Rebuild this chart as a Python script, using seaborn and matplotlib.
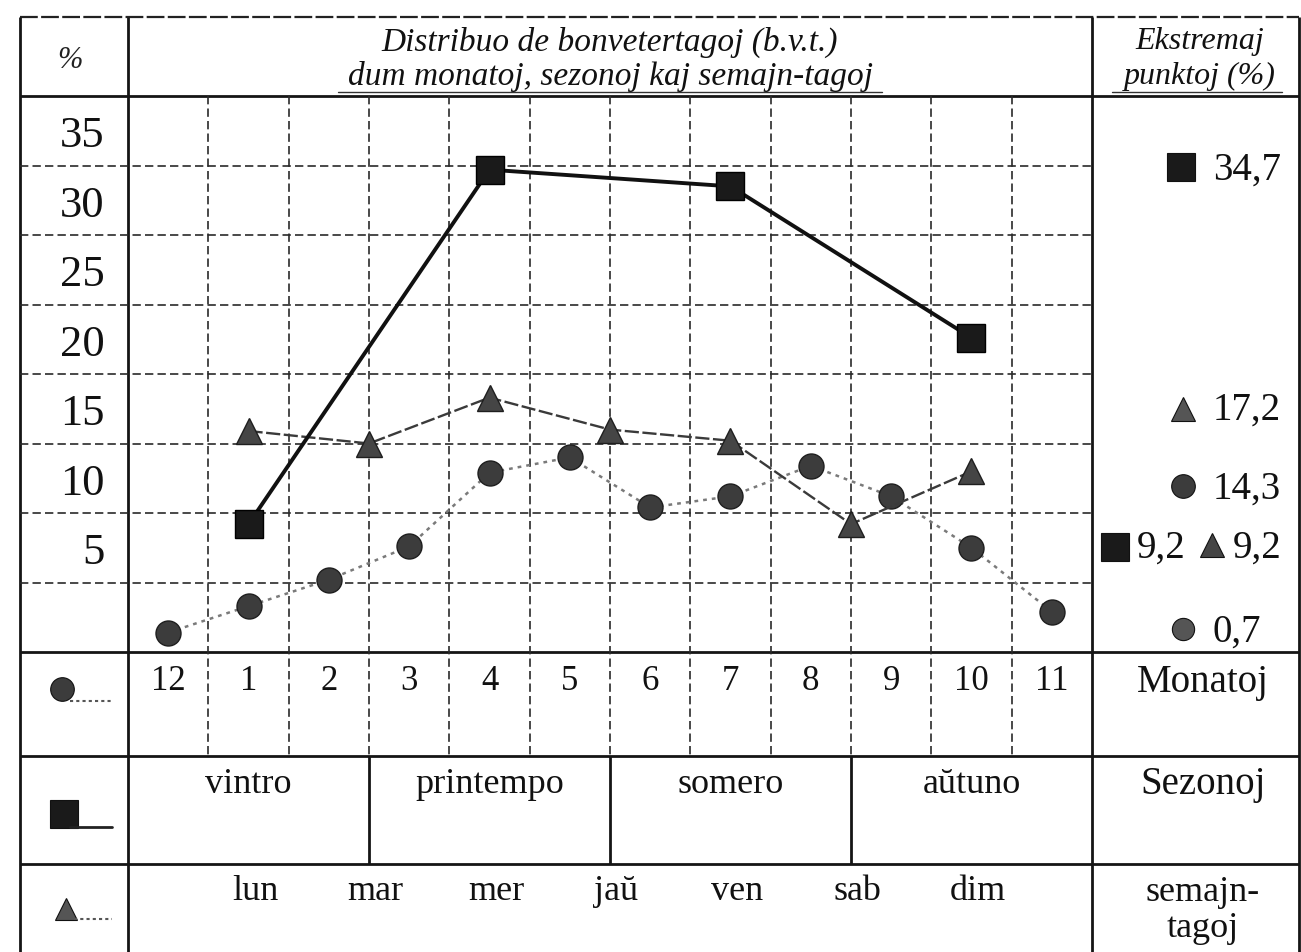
import matplotlib
matplotlib.use('Agg')
import matplotlib.pyplot as plt
import matplotlib.transforms as mtransforms
import seaborn as sns
import pandas as pd
import numpy as np

# ---------------- data ----------------
months = ['12', '1', '2', '3', '4', '5', '6', '7', '8', '9', '10', '11']
month_vals = [1.4, 3.3, 5.2, 7.6, 12.9, 14.0, 10.4, 11.2, 13.4, 11.2, 7.5, 2.9]
seasons = ['vintro', 'printempo', 'somero', 'aŭtuno']
season_vals = [9.2, 34.7, 33.5, 22.6]
weekdays = ['lun', 'mar', 'mer', 'jaŭ', 'ven', 'sab', 'dim']
weekday_vals = [15.9, 15.0, 18.3, 16.0, 15.2, 9.2, 13.0]
y_labels = ['5', '10', '15', '20', '25', '30', '35']
y_label_vals = [5, 10, 15, 20, 25, 30, 35]
extreme_labels = ['34,7', '17,2', '14,3', '9,2', '9,2', '0,7']
title_lines = ['Distribuo de bonvetertagoj (b.v.t.)', 'dum monatoj, sezonoj kaj semajn-tagoj']
right_header = ['Ekstremaj', 'punktoj (%)']
row_names = ['Monatoj', 'Sezonoj', 'semajn-', 'tagoj']

# x positions (layout): months on columns, seasons at middle month, weekdays spread
month_pos = np.arange(len(months))
season_pos = np.array([1, 4, 7, 10])
weekday_pos = 1 + 1.5 * np.arange(len(weekdays))

df_m = pd.DataFrame({'x': month_pos, 'v': month_vals})
df_s = pd.DataFrame({'x': season_pos, 'v': season_vals})
df_w = pd.DataFrame({'x': weekday_pos, 'v': weekday_vals})

# ---------------- figure ----------------
sns.set_theme(style='white')
plt.rcParams['font.family'] = ['Liberation Serif', 'DejaVu Serif']
W, H = 1301, 953
fig = plt.figure(figsize=(W / 100, H / 100), dpi=100, facecolor='white')

ov = fig.add_axes([0, 0, 1, 1], zorder=0)
ov.set_xlim(0, W)
ov.set_ylim(H, 0)
ov.axis('off')

L, C1, C2, R = 20, 128, 1092, 1299
TOP, HB, MB, SB, WB, BOT = 18, 97, 653, 757, 865, 953
colw = (C2 - C1) / 12.0
px_per_unit = (MB - HB) / 40.0

ax = fig.add_axes([C1 / W, (H - MB) / H, (C2 - C1) / W, (MB - HB) / H], zorder=2)
ax.patch.set_alpha(0)
ax.set_xlim(-0.5, 11.5)
ax.set_ylim(0, 40)
for s in ax.spines.values():
    s.set_visible(False)

solid = dict(color='#151515', lw=2.0, solid_capstyle='butt')
dashed = dict(color='#2a2a2a', lw=1.2, ls=(0, (5, 2.5)))

# outer frame / table lines
ov.plot([L, R], [TOP, TOP], color='#222', lw=1.6, ls=(0, (8, 1.5)))
for x in (L, C1, C2, R):
    ov.plot([x, x], [TOP, BOT], **solid)
for y in (HB, MB, SB, WB):
    ov.plot([L, R], [y, y], **solid)
# horizontal grid
for v in range(5, 40, 5):
    y = MB - v * px_per_unit
    ov.plot([L, C2], [y, y], **dashed)
# vertical grid (plot + month row)
for k in range(1, 12):
    x = C1 + k * colw
    ov.plot([x, x], [HB, SB], **dashed)
# season separators
for k in (3, 6, 9):
    x = C1 + k * colw
    ov.plot([x, x], [SB, WB], **solid)
# underlines under header second lines
ov.plot([338, 882], [93, 93], color='#333', lw=1.0)
ov.plot([1112, 1282], [93, 93], color='#333', lw=1.0)

# ---------------- data series ----------------
sns.lineplot(data=df_m, x='x', y='v', ax=ax, color='#7a7a7a', lw=1.8, ls=(0, (1.5, 2)),
             marker='o', markersize=18, markerfacecolor='#3c3c3c', markeredgecolor='#1e1e1e',
             markeredgewidth=1.0, zorder=3)
sns.lineplot(data=df_w, x='x', y='v', ax=ax, color='#3a3a3a', lw=1.7, ls=(0, (6, 1.5)),
             marker='^', markersize=19, markerfacecolor='#454545', markeredgecolor='#1e1e1e',
             markeredgewidth=1.0, zorder=4)
sns.lineplot(data=df_s, x='x', y='v', ax=ax, color='#111111', lw=2.8,
             marker='s', markersize=20, markerfacecolor='#1a1a1a', markeredgecolor='#000',
             markeredgewidth=1.0, zorder=5)

ax.set_xlabel('')
ax.set_ylabel('')
ax.grid(False)
ax.set_yticks([v + 2.5 for v in y_label_vals], y_labels)
ax.set_xticks(month_pos, months)
ax.tick_params(axis='y', length=0, pad=17, labelsize=32, labelcolor='#111')
ax.tick_params(axis='x', length=0, pad=9, labelsize=25, labelcolor='#111')

# season and weekday labels (x in data, y in pixels)
tr = mtransforms.blended_transform_factory(ax.transData, ov.transData)
for p, s in zip(season_pos, seasons):
    ax.text(p, 785, s, transform=tr, ha='center', va='center', fontsize=26, color='#111')
for p, s in zip(weekday_pos, weekdays):
    ax.text(p + 0.08, 892, s, transform=tr, ha='center', va='center', fontsize=26, color='#111')

# ---------------- header texts ----------------
ov.text(70, 60, '%', ha='center', va='center', fontsize=22, style='italic', color='#222')
ov.text((C1 + C2) / 2, 42, title_lines[0], ha='center', va='center', fontsize=24,
        style='italic', color='#111')
ov.text((C1 + C2) / 2, 76, title_lines[1], ha='center', va='center', fontsize=24,
        style='italic', color='#111')
ov.text(1200, 42, right_header[0], ha='center', va='center', fontsize=23, style='italic', color='#111')
ov.text(1200, 76, right_header[1], ha='center', va='center', fontsize=23, style='italic', color='#111')

# right column row names
ov.text(1203, 683, row_names[0], ha='center', va='center', fontsize=28, color='#111')
ov.text(1203, 785, row_names[1], ha='center', va='center', fontsize=28, color='#111')
ov.text(1203, 893, row_names[2], ha='center', va='center', fontsize=26, color='#111')
ov.text(1203, 929, row_names[3], ha='center', va='center', fontsize=26, color='#111')

# extreme points column
mk = dict(ls='none', markeredgecolor='#111', markeredgewidth=0.8)
ov.plot([1181], [168], marker='s', markersize=20, markerfacecolor='#1a1a1a', **mk)
ov.text(1213, 170, extreme_labels[0], ha='left', va='center', fontsize=28, color='#111')
ov.plot([1183], [410], marker='^', markersize=17, markerfacecolor='#555', **mk)
ov.text(1213, 410, extreme_labels[1], ha='left', va='center', fontsize=28, color='#111')
ov.plot([1183], [487], marker='o', markersize=17, markerfacecolor='#3c3c3c', **mk)
ov.text(1213, 489, extreme_labels[2], ha='left', va='center', fontsize=28, color='#111')
ov.plot([1115], [548], marker='s', markersize=20, markerfacecolor='#1a1a1a', **mk)
ov.text(1137, 548, extreme_labels[3], ha='left', va='center', fontsize=28, color='#111')
ov.plot([1212], [546], marker='^', markersize=17, markerfacecolor='#454545', **mk)
ov.text(1233, 548, extreme_labels[4], ha='left', va='center', fontsize=28, color='#111')
ov.plot([1183], [630], marker='o', markersize=16, markerfacecolor='#555', **mk)
ov.text(1213, 632, extreme_labels[5], ha='left', va='center', fontsize=28, color='#111')

# left column legend symbols
ov.plot([62], [690], marker='o', markersize=17, markerfacecolor='#3c3c3c', **mk)
ov.plot([70, 112], [702, 702], color='#555', lw=1.5, ls=(0, (1.5, 1.5)))
ov.plot([64], [815], marker='s', markersize=20, markerfacecolor='#1a1a1a', **mk)
ov.plot([70, 112], [828, 828], color='#222', lw=2.0)
ov.plot([66], [910], marker='^', markersize=16, markerfacecolor='#555', **mk)
ov.plot([74, 112], [920, 920], color='#555', lw=1.5, ls=(0, (1.5, 1.5)))

fig.savefig('out.png', dpi=100, facecolor='white')
